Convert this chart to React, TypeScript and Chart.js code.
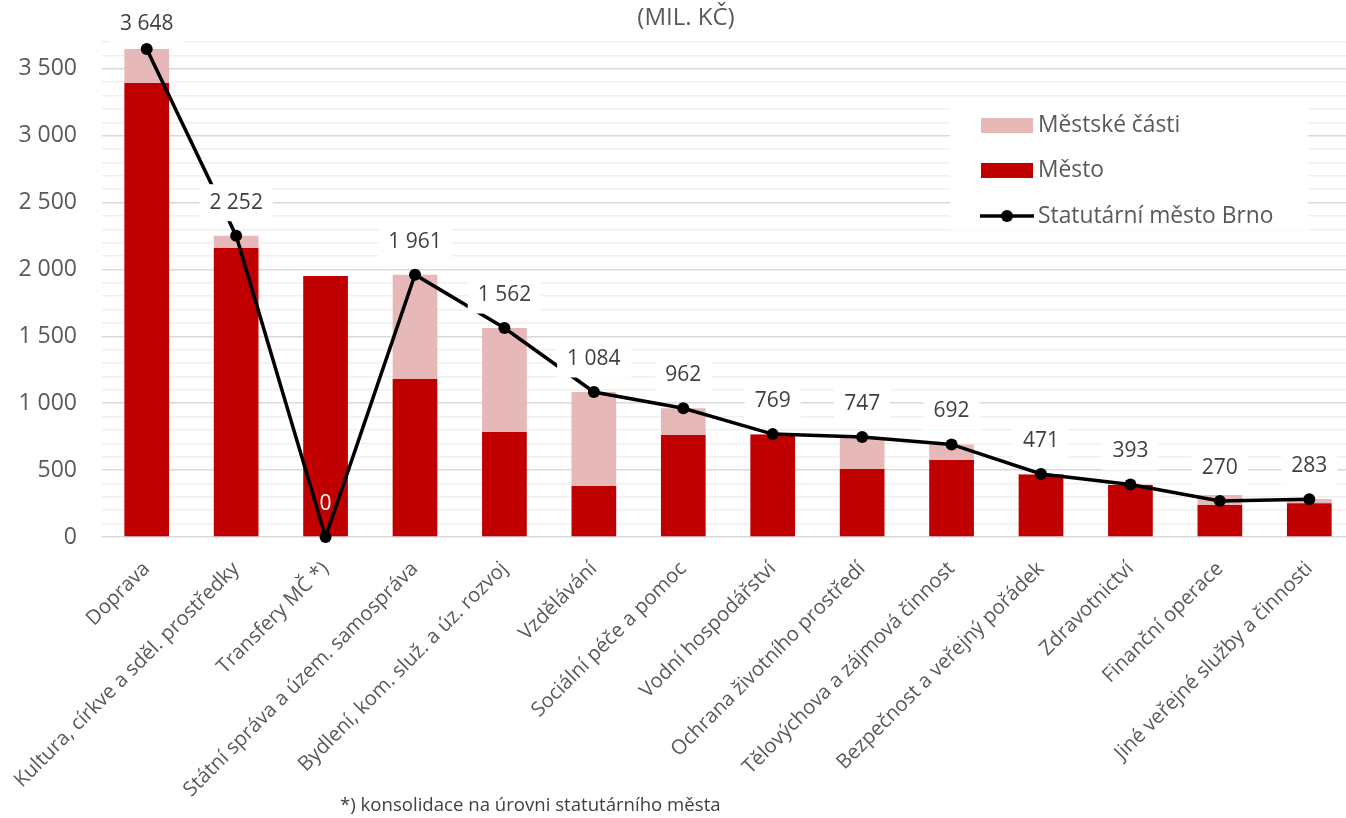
import React, { useEffect, useRef } from "react";
import { Chart, registerables } from "chart.js";

Chart.register(...registerables);

const categories = [
  "Doprava",
  "Kultura, církve a sděl. prostředky",
  "Transfery MČ *)",
  "Státní správa a územ. samospráva",
  "Bydlení, kom. služ. a úz. rozvoj",
  "Vzdělávání",
  "Sociální péče a pomoc",
  "Vodní hospodářství",
  "Ochrana životního prostředí",
  "Tělovýchova a zájmová činnost",
  "Bezpečnost a veřejný pořádek",
  "Zdravotnictví",
  "Finanční operace",
  "Jiné veřejné služby a činnosti",
];
const mestoValues = [3393, 2160, 1951, 1181, 785, 381, 762, 766, 508, 575, 467, 388, 239, 252];
const castiValues = [255, 92, 0, 780, 777, 703, 200, 3, 239, 117, 4, 5, 75, 32];
const brnoValues = [3648, 2252, 0, 1961, 1562, 1084, 962, 769, 747, 692, 471, 393, 270, 283];

const seriesNames = ["Městské části", "Město", "Statutární město Brno"];
const titleText = "(MIL. KČ)";
const footnoteText = "*) konsolidace na úrovni statutárního města";
const yMin = 0;
const yMax = 3700;
const yMinorStep = 100;
const yMajorStep = 500;

const COLOR_MESTO = "#C00000";
const COLOR_CASTI = "#E6B9B8";
const COLOR_LINE = "#000000";
const TEXT_AXIS = "#595959";
const TEXT_LABEL = "#404040";
const FONT = "'Open Sans'";

const fmt = (v: number) => String(v).replace(/\B(?=(\d{3})+(?!\d))/g, " ");

const dataLabelsPlugin = {
  id: "brnoLabels",
  afterDatasetsDraw(chart: any) {
    const ctx = chart.ctx;
    const meta = chart.getDatasetMeta(2);
    ctx.save();
    ctx.font = `21px ${FONT}`;
    ctx.textAlign = "center";
    ctx.textBaseline = "middle";
    meta.data.forEach((pt: any, i: number) => {
      const v = brnoValues[i];
      const text = fmt(v);
      const x = pt.x;
      const y = Math.max(pt.y - 33, 24);
      if (v !== 0) {
        const w = ctx.measureText(text).width + 20;
        const h = 37;
        ctx.fillStyle = "#ffffff";
        ctx.fillRect(x - w / 2, y - h / 2, w, h);
        ctx.fillStyle = TEXT_LABEL;
      } else {
        ctx.fillStyle = "#ffffff";
      }
      ctx.fillText(text, x, y);
    });
    ctx.restore();
  },
};

const decorPlugin = {
  id: "decor",
  afterDraw(chart: any) {
    const ctx = chart.ctx;
    ctx.save();
    // title
    ctx.font = `24px ${FONT}`;
    ctx.fillStyle = TEXT_AXIS;
    ctx.textAlign = "center";
    ctx.textBaseline = "middle";
    ctx.fillText(titleText, 686, 18);
    // footnote
    ctx.font = `18.6px ${FONT}`;
    ctx.textAlign = "left";
    ctx.fillStyle = TEXT_LABEL;
    ctx.fillText(footnoteText, 340, 806);
    // legend
    ctx.fillStyle = "#ffffff";
    ctx.fillRect(950, 107, 358, 123);
    ctx.font = `22.8px ${FONT}`;
    ctx.fillStyle = COLOR_CASTI;
    ctx.fillRect(981, 118, 52, 15);
    ctx.fillStyle = COLOR_MESTO;
    ctx.fillRect(981, 163, 52, 15);
    ctx.strokeStyle = COLOR_LINE;
    ctx.lineWidth = 3.5;
    ctx.beginPath();
    ctx.moveTo(980, 216);
    ctx.lineTo(1034, 216);
    ctx.stroke();
    ctx.fillStyle = COLOR_LINE;
    ctx.beginPath();
    ctx.arc(1007, 216, 6, 0, Math.PI * 2);
    ctx.fill();
    ctx.fillStyle = TEXT_AXIS;
    ctx.textAlign = "left";
    ctx.fillText(seriesNames[0], 1038, 126);
    ctx.fillText(seriesNames[1], 1038, 171);
    ctx.fillText(seriesNames[2], 1038, 217);
    ctx.restore();
  },
};

export default function App() {
  const ref = useRef<HTMLCanvasElement | null>(null);
  useEffect(() => {
    if (!ref.current) return;
    Chart.defaults.font.family = FONT;
    const chart = new Chart(ref.current, {
      type: "bar",
      data: {
        labels: categories,
        datasets: [
          {
            type: "bar",
            label: seriesNames[1],
            data: mestoValues,
            backgroundColor: COLOR_MESTO,
            stack: "bars",
            order: 1,
            categoryPercentage: 0.5,
            barPercentage: 1,
          },
          {
            type: "bar",
            label: seriesNames[0],
            data: castiValues,
            backgroundColor: COLOR_CASTI,
            stack: "bars",
            order: 2,
            categoryPercentage: 0.5,
            barPercentage: 1,
          },
          {
            type: "line",
            label: seriesNames[2],
            data: brnoValues,
            borderColor: COLOR_LINE,
            borderWidth: 3.5,
            pointRadius: 6,
            pointBackgroundColor: COLOR_LINE,
            pointBorderWidth: 0,
            tension: 0,
            stack: "line",
            order: 0,
            clip: false,
          } as any,
        ],
      },
      options: {
        animation: false,
        responsive: false,
        maintainAspectRatio: false,
        layout: { padding: { top: 42, right: 4, left: 0, bottom: 0 } },
        plugins: {
          legend: { display: false },
          tooltip: { enabled: false },
          title: { display: false },
        },
        scales: {
          x: {
            stacked: true,
            grid: { display: false, drawTicks: false },
            border: { display: false },
            ticks: {
              autoSkip: false,
              minRotation: 45,
              maxRotation: 45,
              padding: 20,
              color: TEXT_AXIS,
              font: { size: 20.3, family: FONT },
            },
            afterFit: (s: any) => {
              s.height = 281;
              s.paddingLeft = 0;
              s.paddingRight = 0;
            },
          },
          y: {
            stacked: true,
            min: yMin,
            max: yMax,
            border: { display: false },
            grid: {
              drawTicks: false,
              lineWidth: 1.5,
              color: (c: any) =>
                c.tick && c.tick.value % yMajorStep === 0 ? "#d9d9d9" : "#f0f0f0",
            },
            ticks: {
              stepSize: yMinorStep,
              maxTicksLimit: 100,
              autoSkip: false,
              padding: 25,
              color: TEXT_AXIS,
              font: { size: 23, family: FONT },
              callback: (v: any) => (Number(v) % yMajorStep === 0 ? fmt(Number(v)) : ""),
            },
            afterFit: (s: any) => {
              s.width = 102;
              s.paddingTop = 0;
              s.paddingBottom = 0;
            },
          },
        },
      },
      plugins: [dataLabelsPlugin, decorPlugin],
    });
    return () => chart.destroy();
  }, []);

  return (
    <div
      style={{
        position: "fixed",
        left: 0,
        top: 0,
        width: 1346,
        height: 818,
        overflow: "hidden",
        background: "#ffffff",
      }}
    >
      <canvas ref={ref} width={1360} height={818} style={{ width: 1360, height: 818, display: "block" }} />
    </div>
  );
}
